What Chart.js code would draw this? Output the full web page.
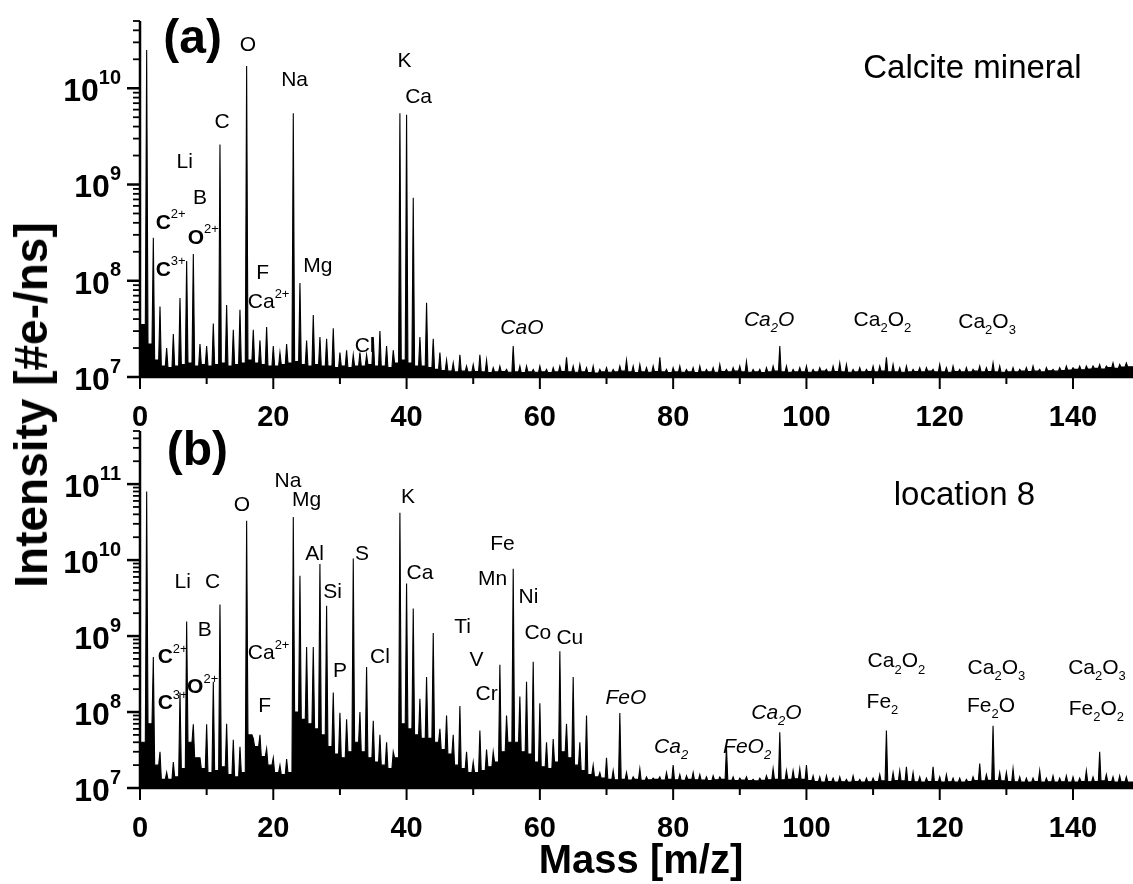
<!DOCTYPE html>
<html>
<head>
<meta charset="utf-8">
<script src="https://cdn.jsdelivr.net/npm/chart.js@4.4.0/dist/chart.umd.min.js"></script>
<style>
  body { margin: 0; background: #fff; width: 1133px; height: 884px; overflow: hidden; position: relative;
         font-family: 'Liberation Sans', Arial, sans-serif; color: #000; }
  canvas { position: absolute; left: 0; }
  #chartA { top: 0; }
  #chartB { top: 410px; }
  #yTitle { position: absolute; left: 31px; top: 405px; transform: translate(-50%, -50%) rotate(-90deg);
            font-weight: bold; font-size: 46px; white-space: nowrap; }
  #xTitle { position: absolute; left: 641px; top: 859px; transform: translate(-50%, -50%);
            font-weight: bold; font-size: 40px; line-height: 1; white-space: nowrap; }
</style>
</head>
<body>
<canvas id="chartA" width="1133" height="440"></canvas>
<canvas id="chartB" width="1133" height="474"></canvas>
<div id="yTitle">Intensity [#e-/ns]</div>
<div id="xTitle">Mass [m/z]</div>
<script>
// intensities in units of 1e7 #e-/ns
// peak tops at integer m/z 0..148
const intA = [
  3, 2500, 28, 5.4, 2.0, 2.8, 6.6, 16, 19, 2.2,
  2.1, 3.6, 260, 5.6, 3.1, 5.0, 1700, 3.1, 2.4, 3.3,
  2.1, 1.8, 2.2, 550, 9.5, 2.4, 4.4, 2.6, 2.5, 3.2,
  1.8, 1.9, 1.7, 1.8, 1.7, 2.6, 3.0, 2.1, 1.9, 550,
  530, 73, 2.6, 5.9, 2.5, 1.8, 1.5, 1.4, 1.7, 1.3,
  1.35, 1.7, 1.5, 1.25, 1.3, 1.2, 2.1, 1.3, 1.3, 1.2,
  1.3, 1.2, 1.25, 1.3, 1.6, 1.3, 1.35, 1.25, 1.3, 1.2,
  1.25, 1.2, 1.3, 1.5, 1.3, 1.35, 1.25, 1.3, 1.6, 1.2,
  1.25, 1.3, 1.2, 1.25, 1.3, 1.2, 1.25, 1.35, 1.2, 1.25,
  1.3, 1.45, 1.2, 1.2, 1.25, 1.3, 2.1, 1.3, 1.2, 1.25,
  1.3, 1.2, 1.25, 1.2, 1.3, 1.4, 1.35, 1.2, 1.25, 1.2,
  1.3, 1.3, 1.6, 1.35, 1.25, 1.3, 1.2, 1.25, 1.25, 1.2,
  1.35, 1.25, 1.3, 1.2, 1.25, 1.2, 1.3, 1.25, 1.4, 1.3,
  1.2, 1.25, 1.2, 1.25, 1.3, 1.2, 1.25, 1.2, 1.25, 1.3,
  1.25, 1.3, 1.3, 1.3, 1.35, 1.3, 1.4, 1.35, 1.4
];
// noise floor between peaks, at m/z 0.5..148.5
const floorA = [
  3.5, 2.2, 1.5, 1.3, 1.25, 1.3, 1.35, 1.4, 1.3, 1.35,
  1.3, 1.35, 1.4, 1.3, 1.35, 1.4, 1.5, 1.4, 1.35, 1.3,
  1.3, 1.35, 1.4, 1.45, 1.35, 1.3, 1.35, 1.3, 1.3, 1.25,
  1.3, 1.25, 1.3, 1.3, 1.35, 1.3, 1.3, 1.25, 1.4, 1.5,
  1.4, 1.3, 1.3, 1.25, 1.2, 1.17, 1.15, 1.13, 1.15, 1.13,
  1.14, 1.13, 1.11, 1.13, 1.14, 1.12, 1.13, 1.11, 1.13, 1.12,
  1.13, 1.11, 1.13, 1.14, 1.13, 1.12, 1.13, 1.11, 1.1, 1.13,
  1.12, 1.13, 1.15, 1.13, 1.11, 1.13, 1.12, 1.14, 1.13, 1.11,
  1.13, 1.12, 1.13, 1.11, 1.13, 1.13, 1.12, 1.14, 1.13, 1.15,
  1.13, 1.12, 1.13, 1.11, 1.13, 1.15, 1.13, 1.12, 1.13, 1.13,
  1.12, 1.13, 1.15, 1.13, 1.14, 1.13, 1.12, 1.13, 1.13, 1.14,
  1.13, 1.15, 1.13, 1.13, 1.12, 1.13, 1.14, 1.13, 1.15, 1.13,
  1.13, 1.12, 1.14, 1.13, 1.13, 1.15, 1.13, 1.14, 1.13, 1.12,
  1.13, 1.13, 1.15, 1.14, 1.15, 1.13, 1.16, 1.15, 1.17, 1.18,
  1.2, 1.19, 1.21, 1.23, 1.21, 1.25, 1.23, 1.27, 1.28
];

const intB = [
  4, 8000, 53, 3, 1.6, 2.2, 18, 155, 6.9, 2.5,
  6.9, 25, 260, 7, 4.3, 3.5, 3300, 4.5, 5, 3.3,
  2.5, 2, 2.4, 3700, 620, 72, 72, 890, 250, 18,
  9.8, 8, 1050, 10, 39, 7.7, 5, 4, 3, 4200,
  490, 230, 15, 29, 110, 6, 9, 5, 12, 3,
  2.2, 5.7, 3.2, 3, 42, 9, 770, 16, 25, 46,
  13, 4, 4.4, 63, 7, 29, 4, 9, 2, 1.6,
  2.5, 1.7, 9.7, 1.6, 1.4, 1.8, 1.4, 1.35, 1.4, 1.6,
  2.0, 1.5, 1.45, 1.6, 1.5, 1.4, 1.45, 1.4, 3.5, 1.4,
  1.35, 1.4, 1.3, 1.35, 1.45, 1.8, 5.4, 1.7, 1.7, 1.8,
  2.0, 1.45, 1.4, 1.45, 1.35, 1.4, 1.3, 1.45, 1.3, 1.35,
  1.35, 1.5, 5.7, 1.6, 1.7, 1.9, 1.6, 1.4, 1.35, 1.9,
  1.4, 1.5, 1.35, 1.35, 1.3, 1.4, 2.1, 1.5, 6.6, 1.6,
  1.6, 1.8, 1.4, 1.35, 1.35, 1.7, 1.35, 1.45, 1.35, 1.45,
  1.4, 1.35, 1.7, 1.4, 3.0, 1.5, 1.4, 1.45, 1.4
];
const floorB = [
  4, 7, 2, 1.3, 1.3, 1.4, 1.8, 4, 2.5, 1.8,
  1.6, 1.7, 1.9, 1.5, 1.4, 1.6, 5, 3.5, 2.6, 2,
  1.6, 1.5, 1.6, 10, 8, 7, 6, 5, 3.5, 2.8,
  2.5, 3, 4, 3, 2.5, 2.2, 2, 1.8, 2.5, 7,
  6, 5, 4.5, 4.5, 4, 3.2, 2.8, 2, 1.8, 1.6,
  1.6, 1.7, 1.9, 2.2, 3, 4, 4, 3, 2.8, 2.2,
  1.9, 1.8, 2.2, 3, 2.5, 2, 1.7, 1.5, 1.4, 1.35,
  1.3, 1.28, 1.3, 1.27, 1.3, 1.26, 1.28, 1.3, 1.27, 1.3,
  1.28, 1.26, 1.3, 1.28, 1.27, 1.25, 1.28, 1.3, 1.26, 1.25,
  1.27, 1.25, 1.24, 1.26, 1.28, 1.3, 1.28, 1.3, 1.32, 1.3,
  1.25, 1.22, 1.2, 1.22, 1.2, 1.21, 1.2, 1.22, 1.2, 1.21,
  1.22, 1.24, 1.22, 1.25, 1.24, 1.22, 1.21, 1.2, 1.22, 1.22,
  1.2, 1.21, 1.2, 1.2, 1.22, 1.25, 1.24, 1.26, 1.25, 1.24,
  1.22, 1.21, 1.2, 1.2, 1.22, 1.2, 1.21, 1.2, 1.21, 1.2,
  1.2, 1.22, 1.21, 1.22, 1.24, 1.22, 1.2, 1.21, 1.2
];

const xTickValues = [0, 10, 20, 30, 40, 50, 60, 70, 80, 90, 100, 110, 120, 130, 140];

// [text, m/z, intensity, style, size]   _n = subscript, ^n = superscript
const labelsA = [
  ['(a)', 7.9, 3.2e10, 'b', 48],
  ['Calcite mineral', 124.9, 1.6e10, '', 33],
  ['O', 16.2, 2.8e10, '', 21], ['Na', 23.2, 1.2e10, '', 21], ['C', 12.3, 4.4e9, '', 21],
  ['Li', 6.7, 1.7e9, '', 21], ['B', 9.0, 7.2e8, '', 21], ['C^2+', 4.6, 4.0e8, 'b', 21],
  ['O^2+', 9.5, 2.8e8, 'b', 21], ['C^3+', 4.6, 1.3e8, 'b', 21], ['F', 18.4, 1.2e8, '', 21],
  ['Mg', 26.7, 1.4e8, '', 21], ['Ca^2+', 19.3, 6.0e7, '', 21], ['Cl', 33.7, 2.1e7, '', 21],
  ['K', 39.7, 1.9e10, '', 21], ['Ca', 41.8, 8.1e9, '', 21], ['CaO', 57.3, 3.2e7, 'i', 21],
  ['Ca_2O', 94.4, 3.9e7, 'i', 21], ['Ca_2O_2', 111.4, 3.9e7, '', 21], ['Ca_2O_3', 127.1, 3.7e7, '', 21]
];
const labelsB = [
  ['(b)', 8.6, 2.7e11, 'b', 48],
  ['location 8', 123.7, 6.9e10, '', 33],
  ['Na', 22.2, 1.1e11, '', 21], ['Mg', 25.0, 6.1e10, '', 21], ['O', 15.3, 5.3e10, '', 21],
  ['Al', 26.2, 1.2e10, '', 21], ['S', 33.3, 1.2e10, '', 21], ['Li', 6.4, 5.1e9, '', 21],
  ['C', 10.9, 5.1e9, '', 21], ['Si', 28.9, 3.8e9, '', 21], ['B', 9.7, 1.2e9, '', 21],
  ['Ca^2+', 19.3, 6.0e8, '', 21], ['C^2+', 4.9, 5.3e8, 'b', 21], ['P', 30.0, 3.4e8, '', 21],
  ['O^2+', 9.4, 2.1e8, 'b', 21], ['C^3+', 4.9, 1.3e8, 'b', 21], ['F', 18.7, 1.2e8, '', 21],
  ['Cl', 36.0, 5.2e8, '', 21], ['K', 40.2, 6.8e10, '', 21], ['Ca', 42.0, 6.7e9, '', 21],
  ['Fe', 54.4, 1.6e10, '', 21], ['Mn', 52.9, 5.6e9, '', 21], ['Ni', 58.3, 3.2e9, '', 21],
  ['Ti', 48.4, 1.3e9, '', 21], ['Co', 59.7, 1.1e9, '', 21], ['Cu', 64.5, 9.4e8, '', 21],
  ['V', 50.5, 4.8e8, '', 21], ['Cr', 52.0, 1.7e8, '', 21], ['FeO', 72.9, 1.5e8, 'i', 21],
  ['Ca_2', 79.7, 3.5e7, 'i', 21], ['FeO_2', 91.1, 3.5e7, 'i', 21], ['Ca_2O', 95.5, 9.7e7, 'i', 21],
  ['Ca_2O_2', 113.5, 4.6e8, '', 21], ['Fe_2', 111.4, 1.35e8, '', 21],
  ['Ca_2O_3', 128.5, 3.8e8, '', 21], ['Fe_2O', 127.7, 1.2e8, '', 21],
  ['Ca_2O_3', 143.6, 3.8e8, '', 21], ['Fe_2O_2', 143.5, 1.1e8, '', 21]
];

const FONT = "'Liberation Sans', Arial, sans-serif";
const UNIT = 1e7;

// line through floor and peak tops, each peak narrowed by two shoulder points
function buildSpectrum(ints, floor) {
  const pts = [{ x: 0, y: ints[0] * UNIT }];
  ints.forEach((v, m) => {
    if (m > 0) {
      pts.push({ x: m - 0.2, y: floor[m - 1] * UNIT });
      pts.push({ x: m, y: v * UNIT });
    }
    pts.push({ x: m + 0.2, y: floor[m] * UNIT });
    pts.push({ x: m + 0.5, y: floor[m] * UNIT });
  });
  pts.push({ x: 149, y: floor[floor.length - 1] * UNIT });
  return pts;
}

function drawRich(ctx, text, cx, cy, size, style) {
  const bold = style.includes('b') ? 'bold ' : '';
  const ital = style.includes('i') ? 'italic ' : '';
  const parts = text.split(/(_[0-9]+|\^[0-9+]+)/).filter(s => s);
  const segs = parts.map(p => {
    if (p[0] === '_') return { t: p.slice(1), f: ital + Math.round(size * 0.62) + 'px ' + FONT, dy: size * 0.4 };
    if (p[0] === '^') return { t: p.slice(1), f: Math.round(size * 0.6) + 'px ' + FONT, dy: -size * 0.38 };
    return { t: p, f: ital + bold + size + 'px ' + FONT, dy: 0 };
  });
  let w = 0;
  segs.forEach(s => { ctx.font = s.f; s.w = ctx.measureText(s.t).width; w += s.w; });
  let x = cx - w / 2;
  ctx.textAlign = 'left';
  ctx.textBaseline = 'middle';
  segs.forEach(s => { ctx.font = s.f; ctx.fillText(s.t, x, cy + s.dy); x += s.w; });
}

const axesPlugin = {
  id: 'axesAndLabels',
  afterDraw(chart) {
    const ctx = chart.ctx, a = chart.chartArea;
    const xs = chart.scales.x, ys = chart.scales.y;
    ctx.save();
    ctx.strokeStyle = '#000';
    ctx.fillStyle = '#000';
    ctx.lineWidth = 2.5;
    ctx.beginPath();
    ctx.moveTo(a.left, a.top);
    ctx.lineTo(a.left, a.bottom);
    ctx.lineTo(a.right, a.bottom);
    ctx.stroke();

    ctx.lineWidth = 2;
    xTickValues.forEach(v => {
      const px = xs.getPixelForValue(v);
      const len = v % 20 === 0 ? 12 : 7;
      ctx.beginPath(); ctx.moveTo(px, a.bottom); ctx.lineTo(px, a.bottom + len); ctx.stroke();
    });

    const e0 = Math.floor(Math.log10(ys.min)), e1 = Math.ceil(Math.log10(ys.max));
    for (let e = e0; e <= e1; e++) {
      for (let k = 1; k <= 9; k++) {
        const v = k * Math.pow(10, e);
        if (v < ys.min * 0.999 || v > ys.max * 1.001) continue;
        const py = ys.getPixelForValue(v);
        const len = k === 1 ? 13 : 7;
        ctx.lineWidth = k === 1 ? 2.5 : 1.8;
        ctx.beginPath(); ctx.moveTo(a.left, py); ctx.lineTo(a.left - len, py); ctx.stroke();
        if (k === 1) {
          ctx.textAlign = 'right';
          ctx.textBaseline = 'middle';
          ctx.font = 'bold 20px ' + FONT;
          const sup = String(e);
          const sw = ctx.measureText(sup).width;
          ctx.fillText(sup, 121, py - 10);
          ctx.font = 'bold 32px ' + FONT;
          ctx.fillText('10', 121 - sw, py + 4);
        }
      }
    }

    chart.options.plugins.axesAndLabels.labels.forEach(l => {
      drawRich(ctx, l[0], xs.getPixelForValue(l[1]), ys.getPixelForValue(l[2]), l[4], l[3]);
    });
    ctx.restore();
  }
};

function makePanel(id, ints, floor, yMax, labels, height, bottom) {
  return new Chart(document.getElementById(id), {
    type: 'line',
    data: {
      datasets: [{
        data: buildSpectrum(ints, floor),
        borderColor: '#000',
        backgroundColor: '#000',
        borderWidth: 1.1,
        pointRadius: 0,
        tension: 0,
        fill: 'start'
      }]
    },
    options: {
      responsive: false,
      animation: false,
      layout: { padding: { top: 21, right: 0, left: 0, bottom: 0 } },
      plugins: { legend: { display: false }, tooltip: { enabled: false }, axesAndLabels: { labels: labels } },
      scales: {
        x: {
          type: 'linear', min: 0, max: 149,
          grid: { display: false, drawTicks: false },
          border: { display: false },
          afterBuildTicks: s => { s.ticks = xTickValues.map(v => ({ value: v })); },
          afterFit: s => { s.height = height - bottom; },
          ticks: {
            color: '#000', padding: 24, maxRotation: 0, autoSkip: false,
            font: { family: FONT, size: 29, weight: 'bold' },
            callback: v => (v % 20 === 0 ? String(v) : '')
          }
        },
        y: {
          type: 'logarithmic', min: 1e7, max: yMax,
          grid: { display: false, drawTicks: false },
          border: { display: false },
          ticks: { display: false },
          afterFit: s => { s.width = 140; }
        }
      }
    },
    plugins: [axesPlugin]
  });
}

makePanel('chartA', intA, floorA, 5e10, labelsA, 440, 377);
makePanel('chartB', intB, floorB, 5e11, labelsB, 474, 378);
</script>
</body>
</html>
